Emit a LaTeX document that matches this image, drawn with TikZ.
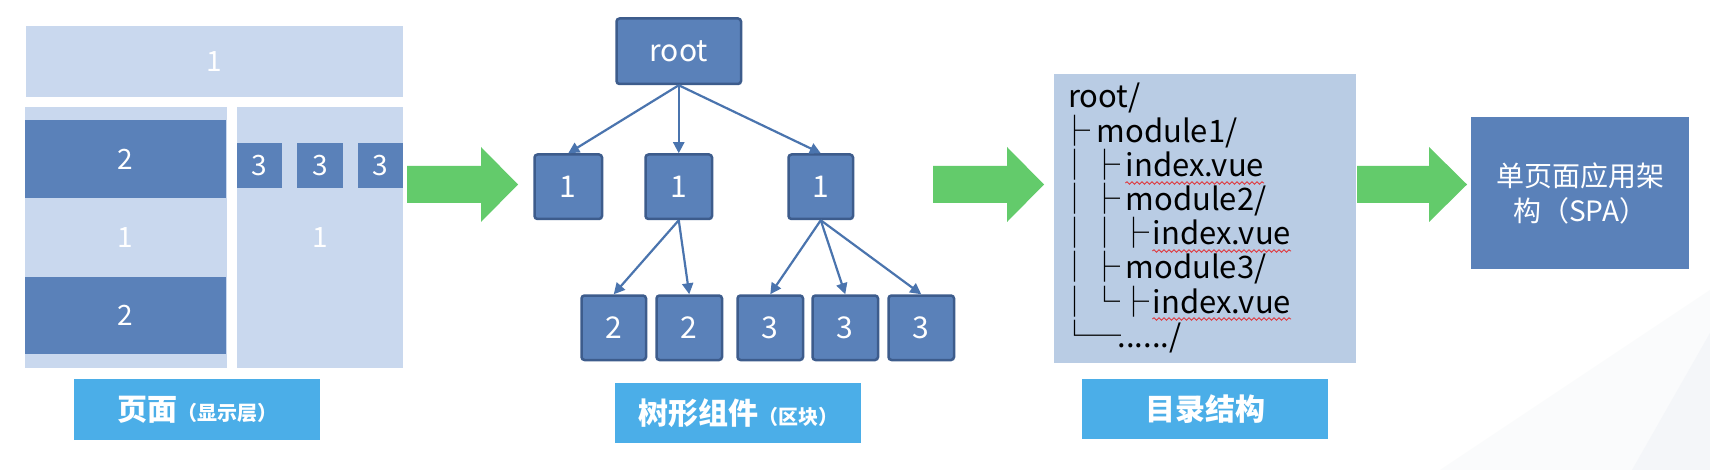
\documentclass[tikz,border=0pt]{standalone}
\usepackage{fontspec}
\setmainfont{Noto Sans CJK SC}
\usetikzlibrary{arrows.meta,decorations.pathmorphing}
\definecolor{pagelight}{HTML}{C9D8EE}
\definecolor{pagedark}{HTML}{5A81B9}
\definecolor{treefill}{HTML}{5A81B9}
\definecolor{treeborder}{HTML}{3D5C8C}
\definecolor{edgeblue}{HTML}{4A74AE}
\definecolor{dirbg}{HTML}{B9CCE4}
\definecolor{labelblue}{HTML}{4BAEE8}
\definecolor{arrowgreen}{HTML}{63CB6B}
\definecolor{wavyred}{HTML}{E0393E}
\definecolor{bgfaint}{HTML}{F4F6F9}
\definecolor{bgfainter}{HTML}{FAFBFC}
\newcommand{\tcol}[1]{\makebox[30pt]{#1}}
\begin{document}
\begin{tikzpicture}[x=1pt,y=-1pt,
  blk/.style={anchor=north west, inner sep=0pt, outer sep=0pt, text=white,
    font=\fontsize{28}{30}\selectfont},
  lightblk/.style={blk, fill=pagelight},
  darkblk/.style={blk, fill=pagedark},
  treebox/.style={anchor=north west, inner sep=0pt, rounded corners=3pt,
    draw=treeborder, line width=2.5pt, fill=treefill, text=white,
    font=\fontsize{30}{32}\selectfont},
  treeedge/.style={draw=edgeblue, line width=2.2pt,
    -{Triangle[length=11pt,width=11pt]}},
  lbl/.style={anchor=north west, inner sep=0pt, fill=labelblue, text=white},
  dirglyph/.style={anchor=base west, inner sep=0pt, font=\fontsize{31}{34}\selectfont},
  dirtext/.style={anchor=base west, inner sep=0pt, font=\fontsize{31}{34}\selectfont},
  wavy/.style={draw=wavyred, line width=0.9pt,
    decorate, decoration={snake, segment length=5pt, amplitude=1.2pt}},
  greenarrow/.style={fill=arrowgreen}
]
% background
\fill[white] (0,0) rectangle (1710,470);
\useasboundingbox (0,0) rectangle (1710,470);
\fill[bgfainter] (1440,470) -- (1710,290) -- (1710,470) -- cycle;
\fill[bgfaint] (1632,470) -- (1710,333) -- (1710,470) -- cycle;

% ---------- page layout ----------
\node[lightblk, minimum width=377, minimum height=71] (ptop) at (26,26) {1};
\node[lightblk, minimum width=202, minimum height=261] (pleft) at (25,107) {};
\node[lightblk, minimum width=166, minimum height=261] (pright) at (237,107) {};
\node[darkblk, minimum width=201, minimum height=78] (pl2a) at (25,120) {2};
\node[darkblk, minimum width=201, minimum height=77] (pl2b) at (25,277) {2};
\node[text=white, inner sep=0pt, font=\fontsize{28}{30}\selectfont] (pl1) at (125.5,238) {1};
\node[text=white, inner sep=0pt, font=\fontsize{28}{30}\selectfont] (pr1) at (320,238) {1};
\node[darkblk, minimum width=45, minimum height=45] (pr3a) at (237,143) {3};
\node[darkblk, minimum width=46, minimum height=45] (pr3b) at (297,143) {3};
\node[darkblk, minimum width=45, minimum height=45] (pr3c) at (358,143) {3};
\node[lbl, minimum width=246, minimum height=61] (lab1) at (74,379)
  {\fontsize{30}{30}\selectfont\bfseries 页面\fontsize{20}{20}\selectfont（显示层）};

% ---------- green arrows ----------
\fill[greenarrow] (407,166) -- (481,166) -- (481,147) -- (518,184.5) -- (481,222) -- (481,203) -- (407,203) -- cycle;
\fill[greenarrow] (933,166) -- (1007,166) -- (1007,147) -- (1044,184.5) -- (1007,222) -- (1007,203) -- (933,203) -- cycle;
\fill[greenarrow] (1357,166) -- (1429,166) -- (1429,147) -- (1467,184.5) -- (1429,222) -- (1429,203) -- (1357,203) -- cycle;

% ---------- tree ----------
\node[treebox, minimum width=124.5, minimum height=65.5] (root) at (615.25,17.25) {root};
\node[treebox, minimum width=67.5, minimum height=64.5] (t1a) at (533.25,153.25) {1};
\node[treebox, minimum width=66.5, minimum height=64.5] (t1b) at (644.25,153.25) {1};
\node[treebox, minimum width=64.5, minimum height=64.5] (t1c) at (787.25,153.25) {1};
\node[treebox, minimum width=64.5, minimum height=64.5] (t2a) at (580.25,294.25) {2};
\node[treebox, minimum width=65.5, minimum height=64.5] (t2b) at (655.25,294.25) {2};
\node[treebox, minimum width=65.5, minimum height=64.5] (t3a) at (736.25,294.25) {3};
\node[treebox, minimum width=65.5, minimum height=64.5] (t3b) at (811.25,294.25) {3};
\node[treebox, minimum width=65.5, minimum height=64.5] (t3c) at (887.25,294.25) {3};
\draw[treeedge] (root.south) -- (t1a.north);
\draw[treeedge] (root.south) -- (t1b.north);
\draw[treeedge] (root.south) -- (t1c.north);
\draw[treeedge] (t1b.south) -- (t2a.north);
\draw[treeedge] (t1b.south) -- (t2b.north);
\draw[treeedge] (t1c.south) -- (t3a.north);
\draw[treeedge] (t1c.south) -- (t3b.north);
\draw[treeedge] (t1c.south) -- (t3c.north);
\node[lbl, minimum width=246, minimum height=60] (lab2) at (615,383)
  {\fontsize{30}{30}\selectfont\bfseries 树形组件\fontsize{20}{20}\selectfont（区块）};

% ---------- directory ----------
\node[anchor=north west, inner sep=0pt, fill=dirbg, minimum width=302, minimum height=289] (dir) at (1054,74) {};
\node[dirtext] (d1t) at (1068,108) {root/};
\node[dirglyph] (d2g) at (1060,143) {\tcol{├}};
\node[dirtext, xshift=6pt] (d2t) at (d2g.base east) {module1/};
\node[dirglyph] (d3g) at (1060,177) {\tcol{│}\tcol{├}};
\node[dirtext, xshift=5pt] (d3t) at (d3g.base east) {index.vue};
\node[dirglyph] (d4g) at (1060,211) {\tcol{│}\tcol{├}};
\node[dirtext, xshift=5pt] (d4t) at (d4g.base east) {module2/};
\node[dirglyph] (d5g) at (1060,245) {\tcol{│}\tcol{│}\makebox[28pt]{├}};
\node[dirtext, xshift=4pt] (d5t) at (d5g.base east) {index.vue};
\node[dirglyph] (d6g) at (1060,279) {\tcol{│}\tcol{├}};
\node[dirtext, xshift=5pt] (d6t) at (d6g.base east) {module3/};
\node[dirglyph] (d7g) at (1060,313) {\tcol{│}\tcol{└}\makebox[28pt]{├}};
\node[dirtext, xshift=4pt] (d7t) at (d7g.base east) {index.vue};
\node[dirglyph] (d8g) at (1060,347) {\tcol{└}\makebox[20pt][l]{─}};
\node[dirtext, xshift=7pt] (d8t) at (d8g.base east) {....../};
\draw[wavy] ([yshift=-6pt]d3t.base west) -- ([yshift=-6pt]d3t.base east);
\draw[wavy] ([yshift=-6pt]d5t.base west) -- ([yshift=-6pt]d5t.base east);
\draw[wavy] ([yshift=-6pt]d7t.base west) -- ([yshift=-6pt]d7t.base east);
\node[lbl, minimum width=246, minimum height=60] (lab3) at (1082,379)
  {\fontsize{30}{30}\selectfont\bfseries 目录结构};

% ---------- SPA ----------
\node[anchor=north west, inner sep=0pt, fill=pagedark, text=white, align=center,
  minimum width=218, minimum height=152, font=\fontsize{28}{35}\selectfont] (spa) at (1471,117)
  {单页面应用架\\构（SPA）};
\end{tikzpicture}
\end{document}
